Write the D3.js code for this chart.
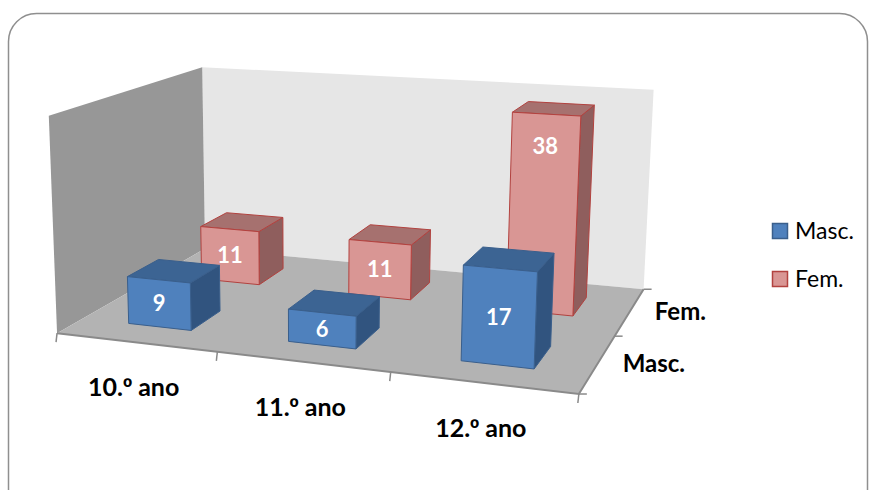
<!DOCTYPE html>
<html>
<head>
<meta charset="utf-8">
<script src="https://cdn.jsdelivr.net/npm/d3@7"></script>
<style>
  body { margin: 0; background: #fff; }
  svg { display: block; }
</style>
</head>
<body>
<svg id="chart" width="871" height="490"></svg>
<script>
// ---- data ----
const categories = ["10.º ano", "11.º ano", "12.º ano"];
const seriesNames = ["Masc.", "Fem."];
const mascValues = [9, 6, 17];
const femValues = [11, 11, 38];
const valueMax = 40;

// ---- camera calibration: where points of the plot box land on screen ----
// world space: X across categories [0,3], Y up [0,1] (wall height), Z into depth [0,2]
const cameraAnchors = [
  { w: [0, 0, 0], s: [58.3, 331.7] },
  { w: [1, 0, 0], s: [217.9, 351.2] },
  { w: [2, 0, 0], s: [389.3, 372] },
  { w: [3, 0, 0], s: [580, 395] },
  { w: [3, 0, 1], s: [614.5, 337] },
  { w: [3, 0, 2], s: [644, 287] },
  { w: [0, 0, 2], s: [203.5, 251] },
  { w: [0, 1, 0], s: [47.3, 116.7] },
  { w: [0, 1, 2], s: [204, 65.7] },
  { w: [3, 1, 2], s: [653, 90.7] }
];

function solveLinear(A, b) {
  const n = b.length;
  const M = A.map((row, i) => [...row, b[i]]);
  for (let c = 0; c < n; c++) {
    let piv = c;
    for (let r = c + 1; r < n; r++) if (Math.abs(M[r][c]) > Math.abs(M[piv][c])) piv = r;
    [M[c], M[piv]] = [M[piv], M[c]];
    for (let r = 0; r < n; r++) {
      if (r === c) continue;
      const f = M[r][c] / M[c][c];
      for (let k = c; k <= n; k++) M[r][k] -= f * M[c][k];
    }
  }
  return M.map((row, i) => row[n] / row[i]);
}

// least-squares 3x4 projection matrix (DLT), screen coordinates normalised for stability
const cu = 350, cv = 250, sc = 300;
const rows = [], rhs = [];
cameraAnchors.forEach(({ w: [X, Y, Z], s: [u, v] }) => {
  const su = (u - cu) / sc, sv = (v - cv) / sc;
  rows.push([X, Y, Z, 1, 0, 0, 0, 0, -su * X, -su * Y, -su * Z]); rhs.push(su);
  rows.push([0, 0, 0, 0, X, Y, Z, 1, -sv * X, -sv * Y, -sv * Z]); rhs.push(sv);
});
const AtA = d3.range(11).map(i => d3.range(11).map(j => d3.sum(rows, r => r[i] * r[j])));
const Atb = d3.range(11).map(i => d3.sum(rows, (r, k) => r[i] * rhs[k]));
const P = solveLinear(AtA, Atb);

function project(X, Y, Z) {
  const w = P[8] * X + P[9] * Y + P[10] * Z + 1;
  const u = (P[0] * X + P[1] * Y + P[2] * Z + P[3]) / w;
  const v = (P[4] * X + P[5] * Y + P[6] * Z + P[7]) / w;
  return [u * sc + cu, v * sc + cv];
}

// ---- scales ----
const xBand = d3.scaleBand().domain(categories).range([0, 3]).paddingInner(0.6).paddingOuter(0.3);
const zBand = d3.scaleBand().domain(seriesNames).range([0, 2]).paddingInner(0.6).paddingOuter(0.3);
const yScale = d3.scaleLinear().domain([0, valueMax]).range([0, 1]);

const svg = d3.select("#chart");
const line = d3.line();
const poly = pts => line(pts.map(p => project(...p))) + "Z";
const font = "Lato, 'Open Sans', sans-serif";

// ---- outer frame ----
svg.append("rect")
  .attr("x", 8.5).attr("y", 13.5).attr("width", 859).attr("height", 540)
  .attr("rx", 28).attr("ry", 28)
  .attr("fill", "#fff").attr("stroke", "#8f8f8f").attr("stroke-width", 1.5);

// ---- walls and floor ----
const X0 = 0, X1 = 3, Z0 = 0, Z1 = 2, YT = 1;
svg.append("path").attr("d", poly([[X0, 0, Z1], [X1, 0, Z1], [X1, YT, Z1], [X0, YT, Z1]]))
  .attr("fill", "#e6e6e6");
svg.append("path").attr("d", poly([[X0, 0, Z0], [X0, 0, Z1], [X0, YT, Z1], [X0, YT, Z0]]))
  .attr("fill", "#979797");
svg.append("path").attr("d", poly([[X0, 0, Z0], [X1, 0, Z0], [X1, 0, Z1], [X0, 0, Z1]]))
  .attr("fill", "#b3b3b3");

// floor edges (axis lines) and ticks
const axisColor = "#8a8a8a";
svg.append("path").attr("d", line([project(X0, 0, Z0), project(X1, 0, Z0), project(X1, 0, Z1)]))
  .attr("fill", "none").attr("stroke", axisColor).attr("stroke-width", 2);

const catTicks = [0, ...categories.map(c => xBand(c) + xBand.bandwidth() + xBand.step() * 0.3)];
catTicks.forEach(X => {
  const [u, v] = project(X, 0, Z0);
  svg.append("line").attr("x1", u).attr("y1", v).attr("x2", u - 1).attr("y2", v + 9)
    .attr("stroke", axisColor).attr("stroke-width", 1.5);
});
const serTicks = [0, ...seriesNames.map(s => zBand(s) + zBand.bandwidth() + zBand.step() * 0.3)];
serTicks.forEach(Z => {
  const [u, v] = project(X1, 0, Z);
  svg.append("line").attr("x1", u).attr("y1", v).attr("x2", u + 8).attr("y2", v)
    .attr("stroke", axisColor).attr("stroke-width", 1.5);
});

// ---- bars ----
const palette = {
  "Masc.": { front: "#4f81bd", top: "#3c6493", side: "#31547f", stroke: "#3a5f8c" },
  "Fem.":  { front: "#d99694", top: "#a6716f", side: "#8f5e5d", stroke: "#b2423f" }
};
const seriesValues = { "Masc.": mascValues, "Fem.": femValues };

// back row first, left to right, so nearer boxes cover farther ones
const bars = [];
seriesNames.slice().reverse().forEach(s => {
  categories.forEach((c, i) => bars.push({ series: s, category: c, value: seriesValues[s][i] }));
});

// value labels sit mid-bar, or near the top for very tall bars
const labelLevel = v => (v > valueMax * 0.75 ? v - 6 : v / 2);

const barG = svg.append("g");
bars.forEach(d => {
  const x0 = xBand(d.category), x1 = x0 + xBand.bandwidth();
  const z0 = zBand(d.series), z1 = z0 + zBand.bandwidth();
  const y1 = yScale(d.value);
  const col = palette[d.series];
  const g = barG.append("g")
    .attr("stroke", col.stroke).attr("stroke-width", 1).attr("stroke-linejoin", "round");
  g.append("path").attr("d", poly([[x1, 0, z0], [x1, 0, z1], [x1, y1, z1], [x1, y1, z0]]))
    .attr("fill", col.side);
  g.append("path").attr("d", poly([[x0, y1, z0], [x1, y1, z0], [x1, y1, z1], [x0, y1, z1]]))
    .attr("fill", col.top);
  g.append("path").attr("d", poly([[x0, 0, z0], [x1, 0, z0], [x1, y1, z0], [x0, y1, z0]]))
    .attr("fill", col.front);
  const [lx, ly] = project((x0 + x1) / 2, yScale(labelLevel(d.value)), z0);
  g.append("text").attr("x", lx).attr("y", ly).attr("dy", "0.35em")
    .attr("text-anchor", "middle").attr("stroke", "none")
    .attr("font-family", font).attr("font-weight", 700)
    .attr("font-size", 22).attr("fill", "#fff")
    .text(d.value);
});

// ---- axis labels ----
// the ordinal indicator is set in a face whose º carries the underline
categories.forEach(c => {
  const [u, v] = project(xBand(c) + xBand.bandwidth() / 2, 0, Z0);
  const t = svg.append("text").attr("x", u - 2).attr("y", v + 54)
    .attr("text-anchor", "middle")
    .attr("font-family", font).attr("font-weight", 700)
    .attr("font-size", 25).attr("fill", "#000");
  c.split(/(º)/).forEach(part => {
    const span = t.append("tspan").text(part);
    if (part === "º") span.attr("font-family", "'Liberation Sans', Arial, sans-serif");
  });
});
seriesNames.forEach(s => {
  const [u, v] = project(X1, 0, zBand(s) + zBand.bandwidth() / 2);
  svg.append("text").attr("x", u + 25).attr("y", v).attr("dy", "0.35em")
    .attr("font-family", font).attr("font-weight", 700)
    .attr("font-size", 24).attr("fill", "#000")
    .text(s);
});

// ---- legend ----
const legend = svg.append("g").attr("transform", "translate(772,223)");
seriesNames.forEach((s, i) => {
  const row = legend.append("g").attr("transform", `translate(0,${i * 48})`);
  row.append("rect").attr("x", 0.5).attr("y", 0.5).attr("width", 15).attr("height", 15)
    .attr("fill", palette[s].front).attr("stroke", palette[s].stroke).attr("stroke-width", 1.5);
  row.append("text").attr("x", 23).attr("y", 8).attr("dy", "0.35em")
    .attr("font-family", font)
    .attr("font-size", 23).attr("fill", "#000")
    .text(s);
});
</script>
</body>
</html>
